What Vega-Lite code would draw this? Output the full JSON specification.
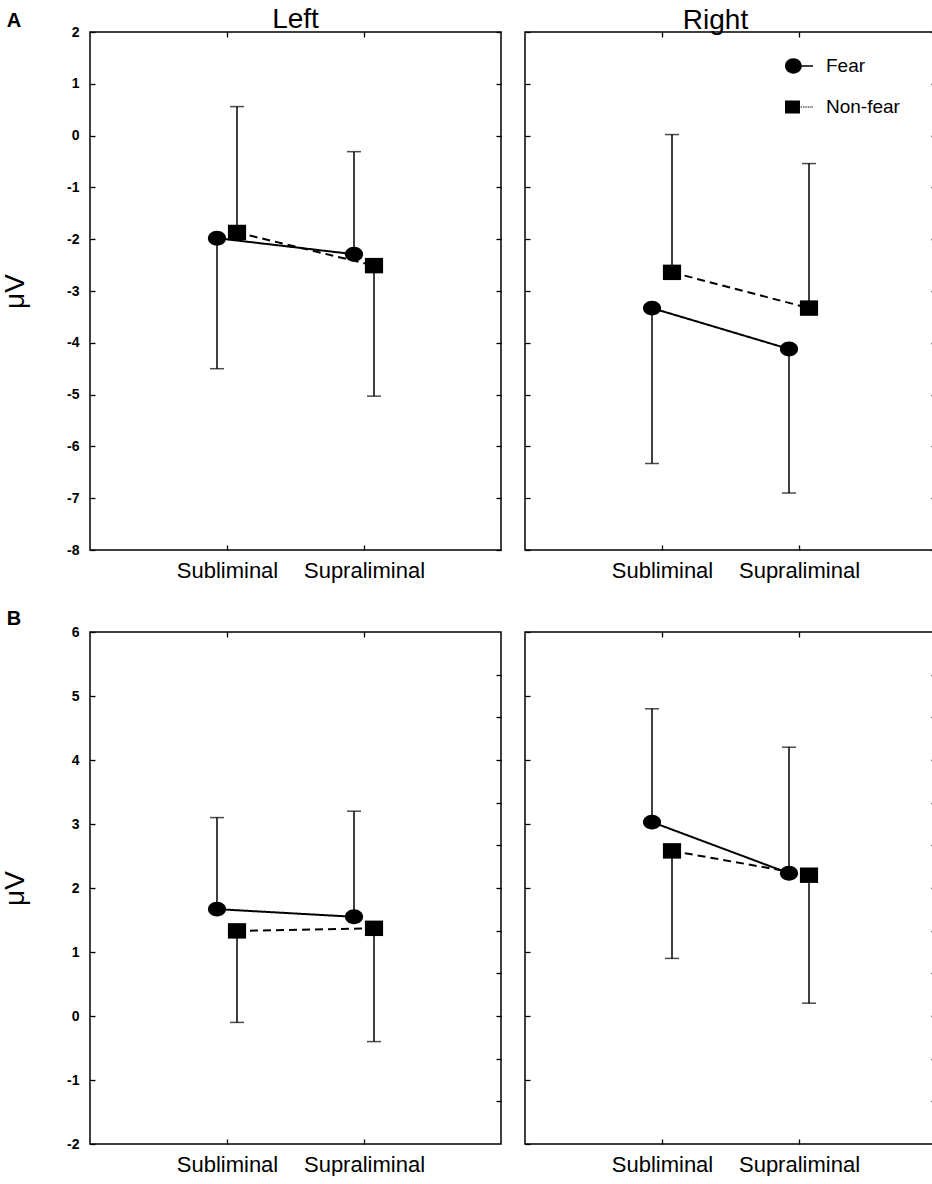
{
  "$schema": "https://vega.github.io/schema/vega-lite/v6.json",
  "padding": {"left": 0, "top": 5, "right": 0, "bottom": 0},
  "datasets": {
    "erp": [
      {"panel": "A", "side": "Left", "condition": "Fear", "awareness": "Subliminal", "mean": -1.98, "err": -4.5},
      {"panel": "A", "side": "Left", "condition": "Non-fear", "awareness": "Subliminal", "mean": -1.87, "err": 0.56},
      {"panel": "A", "side": "Left", "condition": "Fear", "awareness": "Supraliminal", "mean": -2.29, "err": -0.31},
      {"panel": "A", "side": "Left", "condition": "Non-fear", "awareness": "Supraliminal", "mean": -2.51, "err": -5.03},
      {"panel": "A", "side": "Right", "condition": "Fear", "awareness": "Subliminal", "mean": -3.33, "err": -6.33},
      {"panel": "A", "side": "Right", "condition": "Non-fear", "awareness": "Subliminal", "mean": -2.64, "err": 0.02},
      {"panel": "A", "side": "Right", "condition": "Fear", "awareness": "Supraliminal", "mean": -4.12, "err": -6.9},
      {"panel": "A", "side": "Right", "condition": "Non-fear", "awareness": "Supraliminal", "mean": -3.33, "err": -0.54},
      {"panel": "B", "side": "Left", "condition": "Fear", "awareness": "Subliminal", "mean": 1.67, "err": 3.1},
      {"panel": "B", "side": "Left", "condition": "Non-fear", "awareness": "Subliminal", "mean": 1.33, "err": -0.1},
      {"panel": "B", "side": "Left", "condition": "Fear", "awareness": "Supraliminal", "mean": 1.55, "err": 3.2},
      {"panel": "B", "side": "Left", "condition": "Non-fear", "awareness": "Supraliminal", "mean": 1.37, "err": -0.4},
      {"panel": "B", "side": "Right", "condition": "Fear", "awareness": "Subliminal", "mean": 3.03, "err": 4.8},
      {"panel": "B", "side": "Right", "condition": "Non-fear", "awareness": "Subliminal", "mean": 2.58, "err": 0.9},
      {"panel": "B", "side": "Right", "condition": "Fear", "awareness": "Supraliminal", "mean": 2.23, "err": 4.2},
      {"panel": "B", "side": "Right", "condition": "Non-fear", "awareness": "Supraliminal", "mean": 2.2, "err": 0.2}
    ]
  },
  "config": {
    "font": "Liberation Sans",
    "view": {"stroke": "black", "strokeWidth": 1.5},
    "axis": {
      "domain": false,
      "grid": false,
      "tickColor": "black",
      "tickSize": -5,
      "tickWidth": 1.3,
      "labelColor": "black",
      "titleColor": "black",
      "labelFont": "Liberation Sans",
      "titleFont": "Liberation Sans"
    },
    "axisX": {"labelFontSize": 22, "labelPadding": 15, "labelAngle": 0, "labelDx": -4},
    "axisY": {
      "labelFontSize": 14,
      "labelFontWeight": "bold",
      "labelPadding": 16,
      "labelExpr": "'' + datum.value",
      "titleFontSize": 28,
      "titleFontWeight": "normal",
      "titlePadding": 37
    },
    "title": {"font": "Liberation Sans", "fontSize": 28, "fontWeight": "normal", "color": "black", "offset": 0}
  },
  "vconcat": [
    {
      "title": {"text": "A", "anchor": "start", "fontSize": 20, "fontWeight": "bold", "offset": -26, "dx": 6},
      "spacing": 20,
      "hconcat": [
        {
          "width": 411,
          "height": 518,
          "title": {"text": "Left", "offset": -9},
          "data": {"name": "erp"},
          "transform": [{"filter": "datum.panel === 'A' && datum.side === 'Left'"}],
          "layer": [
            {
              "mark": {"type": "rule", "color": "black", "strokeWidth": 1.5, "xOffset": {"expr": "datum.condition === 'Fear' ? -10 : 10"}},
              "encoding": {
                "x": {"field": "awareness", "type": "nominal", "scale": {"type": "point", "padding": 1, "domain": ["Subliminal", "Supraliminal"]}, "axis": {"orient": "bottom", "title": null}},
                "y": {"field": "mean", "type": "quantitative", "scale": {"domain": [-8, 2], "nice": false, "zero": false}, "axis": {"orient": "left", "title": "μV", "values": [-8, -7, -6, -5, -4, -3, -2, -1, 0, 1, 2]}},
                "y2": {"field": "err"}
              }
            },
            {
              "mark": {"type": "tick", "orient": "horizontal", "color": "black", "size": 14, "thickness": 1.5, "xOffset": {"expr": "datum.condition === 'Fear' ? -10 : 10"}},
              "encoding": {
                "x": {"field": "awareness", "type": "nominal", "scale": {"type": "point", "padding": 1, "domain": ["Subliminal", "Supraliminal"]}, "axis": {"orient": "top", "labels": false, "title": null}},
                "y": {"field": "err", "type": "quantitative", "scale": {"domain": [-8, 2], "nice": false, "zero": false}, "axis": {"orient": "right", "labels": false, "title": null, "values": [-8, -7, -6, -5, -4, -3, -2, -1, 0, 1, 2]}}
              }
            },
            {
              "mark": {"type": "line", "color": "black", "strokeWidth": 2, "xOffset": {"expr": "datum.condition === 'Fear' ? -10 : 10"}},
              "encoding": {
                "x": {"field": "awareness", "type": "nominal", "scale": {"type": "point", "padding": 1, "domain": ["Subliminal", "Supraliminal"]}, "axis": null},
                "y": {"field": "mean", "type": "quantitative", "scale": {"domain": [-8, 2], "nice": false, "zero": false}, "axis": null},
                "strokeDash": {"field": "condition", "type": "nominal", "scale": {"domain": ["Fear", "Non-fear"], "range": [[1, 0], [8, 5]]}, "legend": null}
              }
            },
            {
              "mark": {"type": "point", "filled": true, "color": "black", "opacity": 1, "size": 330, "xOffset": {"expr": "datum.condition === 'Fear' ? -10 : 10"}},
              "encoding": {
                "x": {"field": "awareness", "type": "nominal", "scale": {"type": "point", "padding": 1, "domain": ["Subliminal", "Supraliminal"]}, "axis": null},
                "y": {"field": "mean", "type": "quantitative", "scale": {"domain": [-8, 2], "nice": false, "zero": false}, "axis": null},
                "shape": {"field": "condition", "type": "nominal", "scale": {"domain": ["Fear", "Non-fear"], "range": ["M-1,0A1,0.82,0,1,1,1,0A1,0.82,0,1,1,-1,0Z", "M-1,-0.85H1V0.85H-1Z"]}, "legend": null}
              }
            }
          ],
          "resolve": {"axis": {"x": "independent", "y": "independent"}}
        },
        {
          "width": 411,
          "height": 518,
          "title": {"text": "Right", "offset": -4, "dx": -15},
          "data": {"name": "erp"},
          "transform": [{"filter": "datum.panel === 'A' && datum.side === 'Right'"}],
          "layer": [
            {
              "mark": {"type": "rule", "color": "black", "strokeWidth": 1.5, "xOffset": {"expr": "datum.condition === 'Fear' ? -10 : 10"}},
              "encoding": {
                "x": {"field": "awareness", "type": "nominal", "scale": {"type": "point", "padding": 1, "domain": ["Subliminal", "Supraliminal"]}, "axis": {"orient": "bottom", "title": null}},
                "y": {"field": "mean", "type": "quantitative", "scale": {"domain": [-8, 2], "nice": false, "zero": false}, "axis": {"orient": "left", "labels": false, "title": null, "values": [-8, -7, -6, -5, -4, -3, -2, -1, 0, 1, 2]}},
                "y2": {"field": "err"}
              }
            },
            {
              "mark": {"type": "tick", "orient": "horizontal", "color": "black", "size": 14, "thickness": 1.5, "xOffset": {"expr": "datum.condition === 'Fear' ? -10 : 10"}},
              "encoding": {
                "x": {"field": "awareness", "type": "nominal", "scale": {"type": "point", "padding": 1, "domain": ["Subliminal", "Supraliminal"]}, "axis": {"orient": "top", "labels": false, "title": null}},
                "y": {"field": "err", "type": "quantitative", "scale": {"domain": [-8, 2], "nice": false, "zero": false}, "axis": {"orient": "right", "labels": false, "title": null, "values": [-8, -7, -6, -5, -4, -3, -2, -1, 0, 1, 2]}}
              }
            },
            {
              "mark": {"type": "line", "color": "black", "strokeWidth": 2, "xOffset": {"expr": "datum.condition === 'Fear' ? -10 : 10"}},
              "encoding": {
                "x": {"field": "awareness", "type": "nominal", "scale": {"type": "point", "padding": 1, "domain": ["Subliminal", "Supraliminal"]}, "axis": null},
                "y": {"field": "mean", "type": "quantitative", "scale": {"domain": [-8, 2], "nice": false, "zero": false}, "axis": null},
                "strokeDash": {"field": "condition", "type": "nominal", "scale": {"domain": ["Fear", "Non-fear"], "range": [[1, 0], [8, 5]]}, "legend": null}
              }
            },
            {
              "mark": {"type": "point", "filled": true, "color": "black", "opacity": 1, "size": 330, "xOffset": {"expr": "datum.condition === 'Fear' ? -10 : 10"}},
              "encoding": {
                "x": {"field": "awareness", "type": "nominal", "scale": {"type": "point", "padding": 1, "domain": ["Subliminal", "Supraliminal"]}, "axis": null},
                "y": {"field": "mean", "type": "quantitative", "scale": {"domain": [-8, 2], "nice": false, "zero": false}, "axis": null},
                "shape": {"field": "condition", "type": "nominal", "scale": {"domain": ["Fear", "Non-fear"], "range": ["M-1,0A1,0.82,0,1,1,1,0A1,0.82,0,1,1,-1,0Z", "M-1,-0.85H1V0.85H-1Z"]}, "legend": null}
              }
            },
            {
              "mark": {"type": "point", "filled": true, "color": "black", "opacity": 0},
              "encoding": {
                "x": {"field": "awareness", "type": "nominal", "scale": {"type": "point", "padding": 1, "domain": ["Subliminal", "Supraliminal"]}, "axis": null},
                "y": {"field": "mean", "type": "quantitative", "scale": {"domain": [-8, 2], "nice": false, "zero": false}, "axis": null},
                "shape": {
                  "field": "condition",
                  "type": "nominal",
                  "scale": {"domain": ["Fear", "Non-fear"], "range": [
                    "M-1,0A0.6,0.545,0,1,1,0.2,0A0.6,0.545,0,1,1,-1,0ZM0.2,-0.05H1V0.05H0.2Z",
                    "M-1,-0.46H0.07V0.46H-1ZM0.12,-0.04H0.22V0.04H0.12ZM0.29,-0.04H0.39V0.04H0.29ZM0.46,-0.04H0.56V0.04H0.46ZM0.63,-0.04H0.73V0.04H0.63ZM0.8,-0.04H0.9V0.04H0.8ZM0.95,-0.04H1V0.04H0.95Z"
                  ]},
                  "legend": {
                    "title": null,
                    "orient": "none",
                    "legendX": 260,
                    "legendY": 20,
                    "padding": 0,
                    "symbolSize": 784,
                    "symbolFillColor": "black",
                    "symbolStrokeWidth": 0,
                    "symbolOpacity": 1,
                    "labelFont": "Liberation Sans",
                    "labelFontSize": 19,
                    "labelColor": "black",
                    "labelOffset": 13,
                    "rowPadding": 17
                  }
                }
              }
            }
          ],
          "resolve": {"axis": {"x": "independent", "y": "independent"}, "scale": {"shape": "independent"}}
        }
      ]
    },
    {
      "title": {"text": "B", "anchor": "start", "fontSize": 20, "fontWeight": "bold", "offset": -5, "dx": 6},
      "spacing": 20,
      "hconcat": [
        {
          "width": 411,
          "height": 512,
          "data": {"name": "erp"},
          "transform": [{"filter": "datum.panel === 'B' && datum.side === 'Left'"}],
          "layer": [
            {
              "mark": {"type": "rule", "color": "black", "strokeWidth": 1.5, "xOffset": {"expr": "datum.condition === 'Fear' ? -10 : 10"}},
              "encoding": {
                "x": {"field": "awareness", "type": "nominal", "scale": {"type": "point", "padding": 1, "domain": ["Subliminal", "Supraliminal"]}, "axis": {"orient": "bottom", "title": null}},
                "y": {"field": "mean", "type": "quantitative", "scale": {"domain": [-2, 6], "nice": false, "zero": false}, "axis": {"orient": "left", "title": "μV", "values": [-2, -1, 0, 1, 2, 3, 4, 5, 6]}},
                "y2": {"field": "err"}
              }
            },
            {
              "mark": {"type": "tick", "orient": "horizontal", "color": "black", "size": 14, "thickness": 1.5, "xOffset": {"expr": "datum.condition === 'Fear' ? -10 : 10"}},
              "encoding": {
                "x": {"field": "awareness", "type": "nominal", "scale": {"type": "point", "padding": 1, "domain": ["Subliminal", "Supraliminal"]}, "axis": {"orient": "top", "labels": false, "title": null}},
                "y": {"field": "err", "type": "quantitative", "scale": {"domain": [-2, 6], "nice": false, "zero": false}, "axis": {"orient": "right", "labels": false, "title": null, "values": [-1.333, -0.667, 0, 0.667, 1.333, 2, 2.667, 3.333, 4, 4.667, 5.333]}}
              }
            },
            {
              "mark": {"type": "line", "color": "black", "strokeWidth": 2, "xOffset": {"expr": "datum.condition === 'Fear' ? -10 : 10"}},
              "encoding": {
                "x": {"field": "awareness", "type": "nominal", "scale": {"type": "point", "padding": 1, "domain": ["Subliminal", "Supraliminal"]}, "axis": null},
                "y": {"field": "mean", "type": "quantitative", "scale": {"domain": [-2, 6], "nice": false, "zero": false}, "axis": null},
                "strokeDash": {"field": "condition", "type": "nominal", "scale": {"domain": ["Fear", "Non-fear"], "range": [[1, 0], [8, 5]]}, "legend": null}
              }
            },
            {
              "mark": {"type": "point", "filled": true, "color": "black", "opacity": 1, "size": 330, "xOffset": {"expr": "datum.condition === 'Fear' ? -10 : 10"}},
              "encoding": {
                "x": {"field": "awareness", "type": "nominal", "scale": {"type": "point", "padding": 1, "domain": ["Subliminal", "Supraliminal"]}, "axis": null},
                "y": {"field": "mean", "type": "quantitative", "scale": {"domain": [-2, 6], "nice": false, "zero": false}, "axis": null},
                "shape": {"field": "condition", "type": "nominal", "scale": {"domain": ["Fear", "Non-fear"], "range": ["M-1,0A1,0.82,0,1,1,1,0A1,0.82,0,1,1,-1,0Z", "M-1,-0.85H1V0.85H-1Z"]}, "legend": null}
              }
            }
          ],
          "resolve": {"axis": {"x": "independent", "y": "independent"}}
        },
        {
          "width": 411,
          "height": 512,
          "data": {"name": "erp"},
          "transform": [{"filter": "datum.panel === 'B' && datum.side === 'Right'"}],
          "layer": [
            {
              "mark": {"type": "rule", "color": "black", "strokeWidth": 1.5, "xOffset": {"expr": "datum.condition === 'Fear' ? -10 : 10"}},
              "encoding": {
                "x": {"field": "awareness", "type": "nominal", "scale": {"type": "point", "padding": 1, "domain": ["Subliminal", "Supraliminal"]}, "axis": {"orient": "bottom", "title": null}},
                "y": {"field": "mean", "type": "quantitative", "scale": {"domain": [-2, 6], "nice": false, "zero": false}, "axis": {"orient": "left", "labels": false, "title": null, "values": [-2, -1, 0, 1, 2, 3, 4, 5, 6]}},
                "y2": {"field": "err"}
              }
            },
            {
              "mark": {"type": "tick", "orient": "horizontal", "color": "black", "size": 14, "thickness": 1.5, "xOffset": {"expr": "datum.condition === 'Fear' ? -10 : 10"}},
              "encoding": {
                "x": {"field": "awareness", "type": "nominal", "scale": {"type": "point", "padding": 1, "domain": ["Subliminal", "Supraliminal"]}, "axis": {"orient": "top", "labels": false, "title": null}},
                "y": {"field": "err", "type": "quantitative", "scale": {"domain": [-2, 6], "nice": false, "zero": false}, "axis": {"orient": "right", "labels": false, "title": null, "values": [-1.333, -0.667, 0, 0.667, 1.333, 2, 2.667, 3.333, 4, 4.667, 5.333]}}
              }
            },
            {
              "mark": {"type": "line", "color": "black", "strokeWidth": 2, "xOffset": {"expr": "datum.condition === 'Fear' ? -10 : 10"}},
              "encoding": {
                "x": {"field": "awareness", "type": "nominal", "scale": {"type": "point", "padding": 1, "domain": ["Subliminal", "Supraliminal"]}, "axis": null},
                "y": {"field": "mean", "type": "quantitative", "scale": {"domain": [-2, 6], "nice": false, "zero": false}, "axis": null},
                "strokeDash": {"field": "condition", "type": "nominal", "scale": {"domain": ["Fear", "Non-fear"], "range": [[1, 0], [8, 5]]}, "legend": null}
              }
            },
            {
              "mark": {"type": "point", "filled": true, "color": "black", "opacity": 1, "size": 330, "xOffset": {"expr": "datum.condition === 'Fear' ? -10 : 10"}},
              "encoding": {
                "x": {"field": "awareness", "type": "nominal", "scale": {"type": "point", "padding": 1, "domain": ["Subliminal", "Supraliminal"]}, "axis": null},
                "y": {"field": "mean", "type": "quantitative", "scale": {"domain": [-2, 6], "nice": false, "zero": false}, "axis": null},
                "shape": {"field": "condition", "type": "nominal", "scale": {"domain": ["Fear", "Non-fear"], "range": ["M-1,0A1,0.82,0,1,1,1,0A1,0.82,0,1,1,-1,0Z", "M-1,-0.85H1V0.85H-1Z"]}, "legend": null}
              }
            }
          ],
          "resolve": {"axis": {"x": "independent", "y": "independent"}}
        }
      ]
    }
  ],
  "spacing": 27
}
